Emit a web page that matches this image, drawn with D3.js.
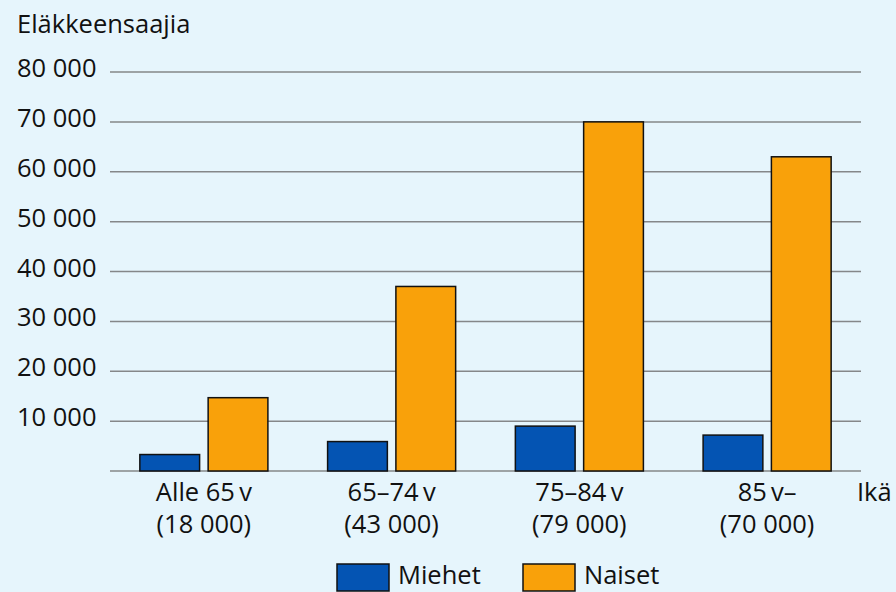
<!DOCTYPE html>
<html><head><meta charset="utf-8">
<script src="https://cdn.jsdelivr.net/npm/d3@7"></script>
<style>
html,body{margin:0;padding:0;background:#e6f5fc;}
svg{display:block;font-family:"Open Sans",sans-serif;}
</style></head>
<body>
<svg id="c" width="896" height="592"></svg>
<script>
const categories = ["Alle 65\u2009v", "65–74\u2009v", "75–84\u2009v", "85\u2009v–"];
const totals = ["(18 000)", "(43 000)", "(79 000)", "(70 000)"];
const seriesNames = ["Miehet", "Naiset"];
const miehet = [3300, 5900, 9000, 7200];
const naiset = [14700, 37000, 70000, 63000];
const yTicks = [10000, 20000, 30000, 40000, 50000, 60000, 70000, 80000];
const yTitle = "Eläkkeensaajia";
const xTitle = "Ikä";
const colors = ["#0454b3", "#f9a10a"];

const FS = 25.5;
const svg = d3.select("#c");
const mLeft = 110, mRight = 861, mTop = 72, mBottom = 471;
const y = d3.scaleLinear().domain([0, 80000]).range([mBottom, mTop]);
const x = d3.scaleBand().domain(categories).range([mLeft, mRight]).paddingInner(0.318).paddingOuter(0.159);
const xs = d3.scaleBand().domain(seriesNames).range([0, x.bandwidth()]).paddingInner(0.125);

const fmt = v => d3.format(",")(v).replace(/,/g, " ");

svg.append("g").selectAll("line").data([0].concat(yTicks)).join("line")
  .attr("x1", mLeft).attr("x2", mRight)
  .attr("y1", d => y(d)).attr("y2", d => y(d))
  .attr("stroke", "#858789").attr("stroke-width", 1.5);

svg.append("g").selectAll("text").data(yTicks).join("text")
  .attr("x", 17).attr("y", d => y(d) + 5)
  .attr("font-size", FS).attr("fill", "#111").text(d => fmt(d));

svg.append("text").attr("x", 17).attr("y", 33).attr("font-size", FS).attr("fill", "#111").text(yTitle);

const data = categories.map((c, i) => ({c, vals: [miehet[i], naiset[i]]}));
const g = svg.append("g").selectAll("g").data(data).join("g")
  .attr("transform", d => `translate(${x(d.c)},0)`);
g.selectAll("rect").data(d => d.vals.map((v, j) => ({s: seriesNames[j], v, j}))).join("rect")
  .attr("x", d => xs(d.s)).attr("width", xs.bandwidth())
  .attr("y", d => y(d.v)).attr("height", d => y(0) - y(d.v))
  .attr("fill", d => colors[d.j]).attr("stroke", "#111").attr("stroke-width", 1.5);

const lab = svg.append("g").selectAll("g").data(categories).join("g");
lab.append("text").attr("x", d => x(d) + x.bandwidth() / 2).attr("y", 501)
  .attr("text-anchor", "middle").attr("font-size", FS).attr("fill", "#111").text(d => d);
lab.append("text").attr("x", d => x(d) + x.bandwidth() / 2).attr("y", 533)
  .attr("text-anchor", "middle").attr("font-size", FS).attr("fill", "#111").text((d, i) => totals[i]);
svg.append("text").attr("x", 857).attr("y", 501).attr("font-size", FS).attr("fill", "#111").text(xTitle);

const lg = svg.append("g").selectAll("g").data(seriesNames).join("g")
  .attr("transform", (d, i) => `translate(${337 + i * 186},564)`);
lg.append("rect").attr("width", 52).attr("height", 27)
  .attr("fill", (d, i) => colors[i]).attr("stroke", "#111").attr("stroke-width", 1.5);
lg.append("text").attr("x", 61).attr("y", 20)
  .attr("font-size", FS).attr("fill", "#111").text(d => d);
</script>
</body></html>
